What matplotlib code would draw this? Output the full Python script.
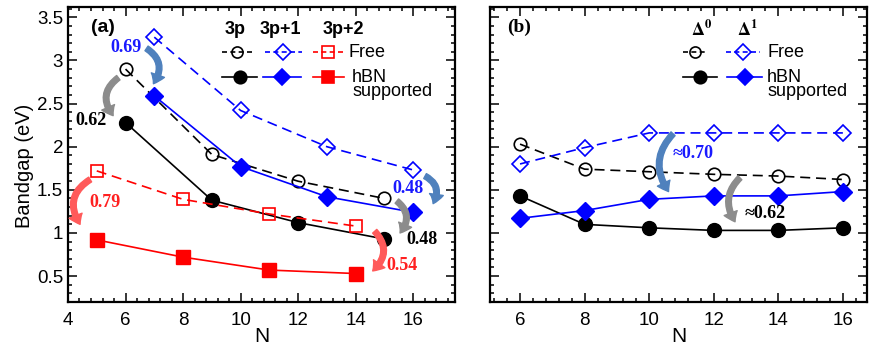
import numpy as np
import matplotlib
matplotlib.use("Agg")
import matplotlib.pyplot as plt
from matplotlib.ticker import MultipleLocator

plt.rcParams["font.family"] = ["Liberation Sans", "DejaVu Sans"]

# panel (a): N grouped by family 3p, 3p+1, 3p+2
n_3p = [6, 9, 12, 15]
gap_3p_free = [2.90, 1.91, 1.60, 1.40]
gap_3p_hbn = [2.28, 1.38, 1.12, 0.93]
n_3p1 = [7, 10, 13, 16]
gap_3p1_free = [3.27, 2.42, 2.00, 1.73]
gap_3p1_hbn = [2.59, 1.77, 1.42, 1.24]
n_3p2 = [5, 8, 11, 14]
gap_3p2_free = [1.72, 1.39, 1.22, 1.08]
gap_3p2_hbn = [0.92, 0.72, 0.57, 0.53]

# panel (b): Delta^0 / Delta^1
n_b = [6, 8, 10, 12, 14, 16]
d0_free = [2.03, 1.74, 1.71, 1.68, 1.66, 1.62]
d1_free = [1.80, 1.99, 2.16, 2.16, 2.16, 2.16]
d0_hbn = [1.43, 1.10, 1.06, 1.03, 1.03, 1.06]
d1_hbn = [1.17, 1.26, 1.39, 1.43, 1.43, 1.48]

# reduction arrows: (start, end, rad, colour, label, label pos, label colour)
arrows_a = [
    ((6.73, 3.14), (6.97, 2.73), -0.5, "#4f81bd", "0.69", (6.0, 3.15), "#1a1aff"),
    ((5.75, 2.80), (5.57, 2.36), 0.5, "#8c8c8c", "0.62", (4.8, 2.30), "black"),
    ((4.77, 1.62), (4.42, 1.10), 0.5, "#ff5a5a", "0.79", (5.3, 1.35), "#ff2020"),
    ((16.41, 1.66), (16.69, 1.34), -0.5, "#4f81bd", "0.48", (15.82, 1.51), "#1a1aff"),
    ((15.43, 1.37), (15.54, 1.00), -0.5, "#8c8c8c", "0.48", (16.31, 0.93), "black"),
    ((14.66, 1.02), (14.59, 0.56), -0.5, "#ff5a5a", "0.54", (15.6, 0.62), "#ff2020"),
]
arrows_b = [
    ((10.74, 2.15), (10.60, 1.48), 0.4, "#4f81bd", "\u22480.70", (11.36, 1.92), "#1a1aff"),
    ((12.81, 1.64), (12.66, 1.13), 0.4, "#8c8c8c", "\u22480.62", (13.6, 1.23), "black"),
]

BLUE = "#0000ff"
RED = "#ff0000"
serif = ["Liberation Serif", "DejaVu Serif"]


def style_axes(ax, xlim, ylim, labels=True):
    ax.set_xlim(*xlim)
    ax.set_ylim(*ylim)
    ax.xaxis.set_major_locator(MultipleLocator(2))
    ax.xaxis.set_minor_locator(MultipleLocator(0.4))
    ax.yaxis.set_major_locator(MultipleLocator(0.5))
    ax.yaxis.set_minor_locator(MultipleLocator(0.1))
    ax.tick_params(which="both", direction="in", top=True, right=True, width=1.1)
    ax.tick_params(which="major", length=6.5, labelsize=13.5)
    ax.tick_params(which="minor", length=3.2)
    ax.tick_params(axis="x", pad=7)
    ax.tick_params(axis="y", pad=3.5, labelleft=labels)
    for s in ax.spines.values():
        s.set_linewidth(1.6)
    ax.set_xlabel("N", fontsize=15, labelpad=-1)
    ax.yaxis.set_major_formatter(plt.FuncFormatter(lambda v, p: f"{v:g}"))


def draw_arrows(ax, arrows):
    for start, end, rad, col, lab, pos, tcol in arrows:
        ax.annotate("", xy=end, xytext=start,
                    arrowprops=dict(arrowstyle="simple,head_width=1.0,head_length=0.7,tail_width=0.4",
                                    connectionstyle=f"arc3,rad={rad}", color=col,
                                    shrinkA=0, shrinkB=0, mutation_scale=10), zorder=5)
        ax.text(pos[0], pos[1], lab, color=tcol, fontsize=13, fontweight="bold",
                family=serif, ha="center", va="center", zorder=6)


def legend_handle(ax, xc, y, w, ls, marker, color, filled, ms):
    ax.plot([xc - w / 2, xc + w / 2], [y, y], ls=ls, color=color, lw=1.2,
            transform=ax.transAxes, clip_on=False)
    ax.plot([xc], [y], marker=marker, ls="none", color=color, ms=ms,
            mfc=color if filled else "none", mew=1.2, transform=ax.transAxes, clip_on=False)


fig = plt.figure(figsize=(8.76, 3.56), dpi=100)
ax1 = fig.add_axes([0.0776, 0.1517, 0.4418, 0.8287])
ax2 = fig.add_axes([0.5594, 0.1517, 0.4304, 0.8287])

# panel (a)
lw = 1.2
ax1.plot(n_3p, gap_3p_free, "--o", color="black", mfc="none", ms=9, lw=lw, mew=1.2, dashes=(6, 3.5))
ax1.plot(n_3p, gap_3p_hbn, "-o", color="black", ms=10, lw=lw)
ax1.plot(n_3p1, gap_3p1_free, "--D", color=BLUE, mfc="none", ms=8.5, lw=lw, mew=1.2, dashes=(6, 3.5))
ax1.plot(n_3p1, gap_3p1_hbn, "-D", color=BLUE, ms=9, lw=lw)
ax1.plot(n_3p2, gap_3p2_free, "--s", color=RED, mfc="none", ms=8.5, lw=lw, mew=1.2, dashes=(6, 3.5))
ax1.plot(n_3p2, gap_3p2_hbn, "-s", color=RED, ms=9.5, lw=lw)
style_axes(ax1, (4, 17.45), (0.2, 3.62))
ax1.set_ylabel("Bandgap (eV)", fontsize=14.5)
ax1.yaxis.set_label_coords(-0.088, 0.46)
draw_arrows(ax1, arrows_a)

ax1.text(0.09, 0.932, "(a)", transform=ax1.transAxes, fontsize=14, fontweight="bold",
         ha="center", va="center")
for x, lab in zip([0.432, 0.548, 0.711], ["3p", "3p+1", "3p+2"]):
    ax1.text(x, 0.922, lab, transform=ax1.transAxes, fontsize=13, fontweight="bold",
             ha="center", va="center")
legend_handle(ax1, 0.437, 0.847, 0.078, (0, (3, 2)), "o", "black", False, 8)
legend_handle(ax1, 0.556, 0.847, 0.095, (0, (3, 2)), "D", BLUE, False, 8)
legend_handle(ax1, 0.672, 0.847, 0.078, (0, (3, 2)), "s", RED, False, 8)
legend_handle(ax1, 0.444, 0.763, 0.09, "-", "o", "black", True, 9)
legend_handle(ax1, 0.553, 0.763, 0.10, "-", "D", BLUE, True, 8.5)
legend_handle(ax1, 0.672, 0.763, 0.08, "-", "s", RED, True, 9)
ax1.text(0.724, 0.847, "Free", transform=ax1.transAxes, fontsize=13, va="center")
ax1.text(0.734, 0.79, "hBN\nsupported", transform=ax1.transAxes, fontsize=13, va="top",
         linespacing=0.78)

# panel (b)
ax2.plot(n_b, d0_free, "--o", color="black", mfc="none", ms=9, lw=lw, mew=1.2, dashes=(6, 3.5))
ax2.plot(n_b, d1_free, "--D", color=BLUE, mfc="none", ms=8.5, lw=lw, mew=1.2, dashes=(6, 3.5))
ax2.plot(n_b, d0_hbn, "-o", color="black", ms=10, lw=lw)
ax2.plot(n_b, d1_hbn, "-D", color=BLUE, ms=9, lw=lw)
style_axes(ax2, (5.07, 16.75), (0.2, 3.62), labels=False)
draw_arrows(ax2, arrows_b)

ax2.text(0.077, 0.932, "(b)", transform=ax2.transAxes, fontsize=14, fontweight="bold",
         family=serif, ha="center", va="center")
for x, lab in zip([0.562, 0.684], [r"$\mathbf{\Delta^0}$", r"$\mathbf{\Delta^1}$"]):
    ax2.text(x, 0.922, lab, transform=ax2.transAxes, fontsize=13, ha="center", va="center",
             math_fontfamily="stix")
legend_handle(ax2, 0.544, 0.847, 0.065, (0, (3, 2)), "o", "black", False, 8)
legend_handle(ax2, 0.671, 0.847, 0.088, (0, (3, 2)), "D", BLUE, False, 8)
legend_handle(ax2, 0.557, 0.763, 0.09, "-", "o", "black", True, 9)
legend_handle(ax2, 0.676, 0.763, 0.093, "-", "D", BLUE, True, 8.5)
ax2.text(0.735, 0.847, "Free", transform=ax2.transAxes, fontsize=13, va="center")
ax2.text(0.735, 0.79, "hBN\nsupported", transform=ax2.transAxes, fontsize=13, va="top",
         linespacing=0.78)

fig.savefig("out.png", dpi=100)
